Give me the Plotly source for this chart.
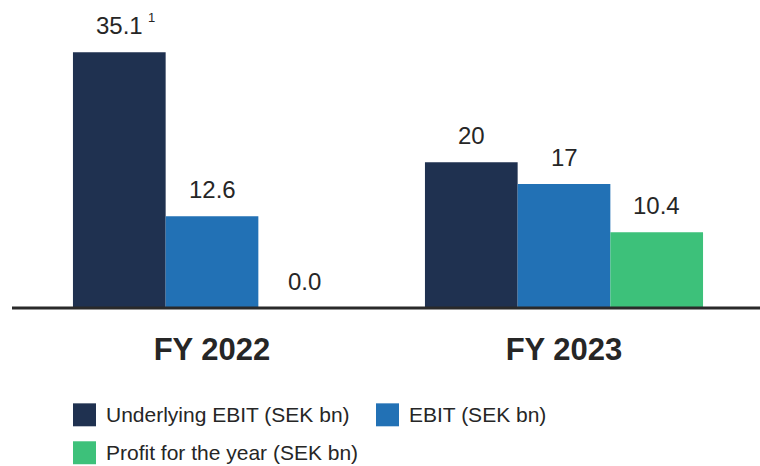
import plotly.graph_objects as go

# ---- data ----
categories = ["FY 2022", "FY 2023"]
series_names = ["Underlying EBIT (SEK bn)", "EBIT (SEK bn)", "Profit for the year (SEK bn)"]
underlying_ebit = [35.1, 20]
ebit = [12.6, 17]
profit = [0.0, 10.4]
value_labels = [["35.1", "20"], ["12.6", "17"], ["0.0", "10.4"]]
underlying_notes = ["1", ""]

colors = ["#1F3150", "#2271B5", "#3DC17A"]
text_color = "#262626"
FONT = "Liberation Sans, Arial, sans-serif"

W, H = 760, 466
ML, MR, MT, MB = 12, 0, 10, 157.5
plot_w = W - ML - MR
plot_h = H - MT - MB

bargap = 0.21
n_series = 3
bar_w = (1 - bargap) / n_series
xpos = list(range(len(categories)))

fig = go.Figure()
for i, (name, vals) in enumerate(zip(series_names, [underlying_ebit, ebit, profit])):
    fig.add_trace(go.Bar(
        x=xpos, y=vals, name=name, marker=dict(color=colors[i], line=dict(width=0)),
        showlegend=False, hoverinfo="skip",
    ))
    for j, v in enumerate(vals):
        xc = xpos[j] + (i - (n_series - 1) / 2) * bar_w
        fig.add_annotation(x=xc, y=v, xref="x", yref="y", text=value_labels[i][j],
                           showarrow=False, yanchor="bottom", yshift=11,
                           font=dict(size=24, color=text_color, family=FONT))
        if i == 0 and underlying_notes[j]:
            fig.add_annotation(x=xc, y=v, xref="x", yref="y", text=underlying_notes[j],
                               showarrow=False, xanchor="left", yanchor="bottom",
                               xshift=27, yshift=25,
                               font=dict(size=13, color=text_color, family=FONT))

# baseline (paper-referenced so it is not clipped at the plot edge)
fig.add_shape(type="line", xref="paper", yref="paper", x0=0, x1=1, y0=0, y1=0,
              line=dict(color="#2a2a2a", width=3), layer="above")

# manual legend
def px2x(px):
    return (px - ML) / plot_w

def px2y(py):
    return (H - MB - py) / plot_h

legend_items = [(73, 404), (376, 404), (73, 442)]
for i, (lx, ly) in enumerate(legend_items):
    fig.add_shape(type="rect", xref="paper", yref="paper",
                  x0=px2x(lx), x1=px2x(lx + 23), y0=px2y(ly + 23), y1=px2y(ly),
                  fillcolor=colors[i], line=dict(width=0))
    fig.add_annotation(xref="paper", yref="paper", x=px2x(lx + 31), y=px2y(ly + 11.5),
                       text=series_names[i], showarrow=False, xanchor="left", yanchor="middle",
                       font=dict(size=21, color=text_color, family=FONT))

cat_px = 352.0
x0 = -(212 - ML) / cat_px
fig.update_layout(
    width=W, height=H, margin=dict(l=ML, r=MR, t=MT, b=MB, pad=0),
    paper_bgcolor="white", plot_bgcolor="white",
    barmode="group", bargap=bargap, bargroupgap=0,
    showlegend=False,
    font=dict(family=FONT, color=text_color),
    xaxis=dict(range=[x0, x0 + plot_w / cat_px], tickvals=xpos, ticktext=categories,
               showgrid=False, zeroline=False, showline=False, ticks="",
               ticklabelstandoff=20,
               tickfont=dict(size=31, family=FONT, color=text_color, weight="bold")),
    yaxis=dict(range=[0, plot_h / 7.30], visible=False, showgrid=False, zeroline=False),
)

fig.write_html("out.html")
